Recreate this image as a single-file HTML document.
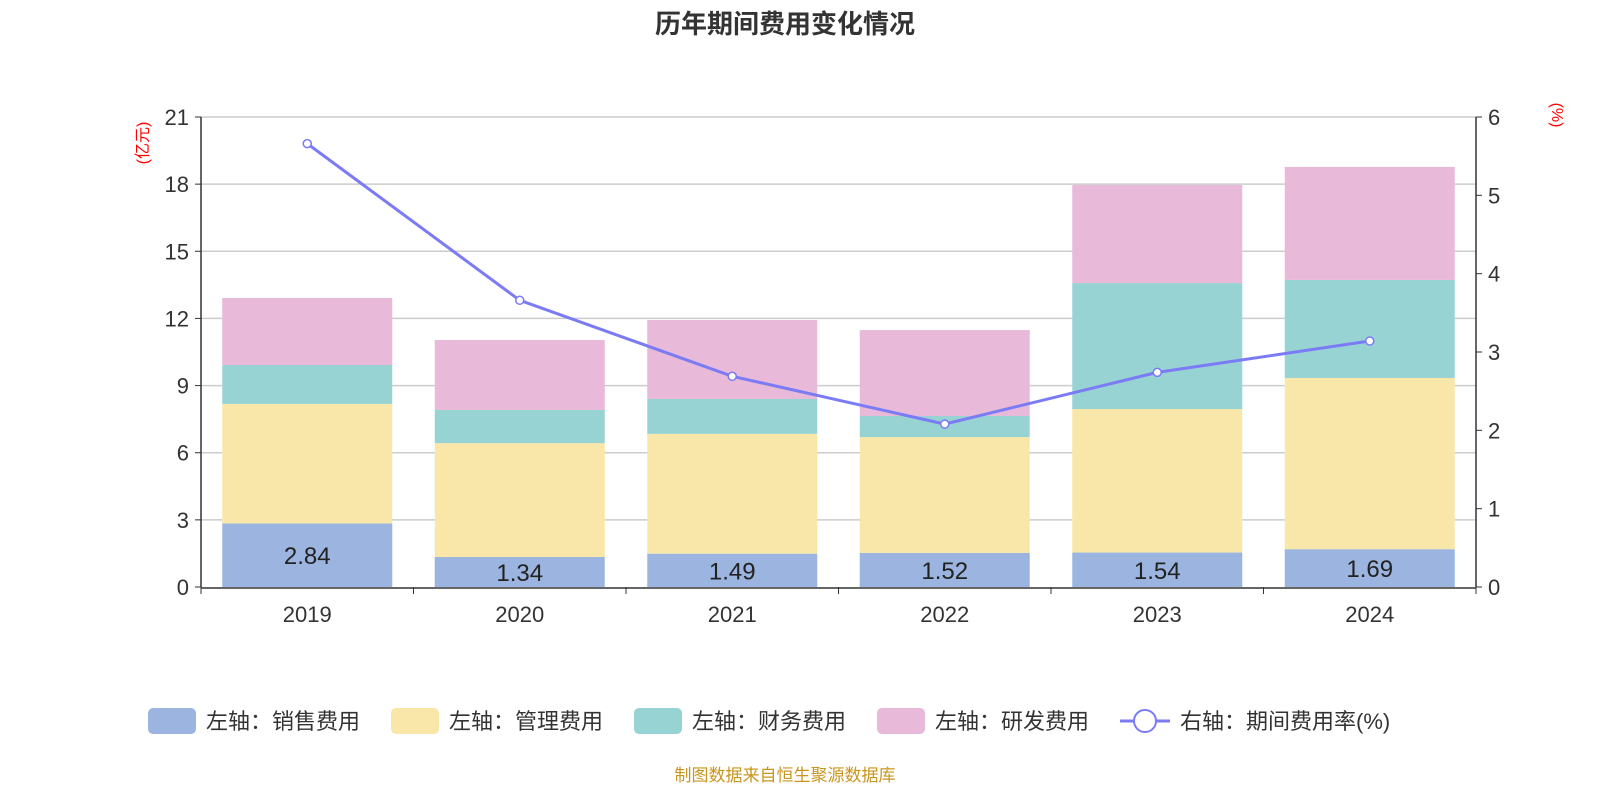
<!DOCTYPE html>
<html><head><meta charset="utf-8">
<style>
body{margin:0;background:#fff;width:1600px;height:800px;overflow:hidden;font-family:"Liberation Sans","Noto Sans CJK SC",sans-serif;}
</style></head>
<body>
<svg id="chart" width="1600" height="800" xmlns="http://www.w3.org/2000/svg" font-family="Liberation Sans, Noto Sans CJK SC, sans-serif">
<text x="785" y="33" text-anchor="middle" font-size="26" font-weight="bold" fill="#333">历年期间费用变化情况</text>
<text transform="translate(148,143) rotate(-90)" text-anchor="middle" font-size="16" fill="#f00">(亿元)</text>
<text transform="translate(1552,115) rotate(90)" text-anchor="middle" font-size="16" fill="#f00">(%)</text>
<g id="grid"></g><g id="bars"></g><g id="line"></g><g id="axes"></g>
<g font-size="22" fill="#333">
<rect x="148" y="708" width="48" height="26" rx="5" fill="#9bb5e0"/><text x="206" y="729">左轴：销售费用</text>
<rect x="391" y="708" width="48" height="26" rx="5" fill="#f8e7a8"/><text x="449" y="729">左轴：管理费用</text>
<rect x="634" y="708" width="48" height="26" rx="5" fill="#98d3d4"/><text x="692" y="729">左轴：财务费用</text>
<rect x="877" y="708" width="48" height="26" rx="5" fill="#e8b9d8"/><text x="935" y="729">左轴：研发费用</text>
<g><line x1="1120" y1="721" x2="1170" y2="721" stroke="#7b7bf5" stroke-width="3"/><circle cx="1145" cy="721" r="11" fill="#fff" stroke="#7b7bf5" stroke-width="2"/></g><text x="1180" y="729">右轴：期间费用率(%)</text>
</g>
<text x="785" y="781" text-anchor="middle" font-size="17" fill="#c8961e">制图数据来自恒生聚源数据库</text>
</svg>
<script>
const categories=["2019","2020","2021","2022","2023","2024"];
const sales=[2.84,1.34,1.49,1.52,1.54,1.69];
const mgmt=[5.34,5.09,5.35,5.18,6.41,7.65];
const fin=[1.74,1.48,1.56,0.94,5.63,4.38];
const rd=[2.99,3.13,3.53,3.84,4.38,5.05];
const rate=[5.66,3.66,2.69,2.08,2.74,3.14];
const leftTicks=[0,3,6,9,12,15,18,21];
const rightTicks=[0,1,2,3,4,5,6];
const NS="http://www.w3.org/2000/svg";
const X0=201,X1=1476,Y0=587,Y1=117;
const yL=v=>Y0-(Y0-Y1)*v/21, yR=v=>Y0-(Y0-Y1)*v/6;
const bw=(X1-X0)/categories.length, xc=i=>X0+bw*(i+0.5);
function mk(t,a,p){const e=document.createElementNS(NS,t);for(const k in a)e.setAttribute(k,a[k]);p.appendChild(e);return e;}
const grid=document.getElementById('grid'),bars=document.getElementById('bars'),line=document.getElementById('line'),axes=document.getElementById('axes');
leftTicks.forEach(v=>{
 if(v>0){const g=mk('line',{x1:X0,x2:X1,y1:yL(v),y2:yL(v),stroke:'#ccc','stroke-width':1.5},grid);
 
 }
 const t=mk('text',{x:X0-12,y:yL(v)+8,'text-anchor':'end','font-size':22,fill:'#333'},axes);t.textContent=v;
 
 
 mk('line',{x1:X0-6,x2:X0,y1:yL(v),y2:yL(v),stroke:'#333'},axes);
});
rightTicks.forEach(v=>{
 const t=mk('text',{x:X1+12,y:yR(v)+8,'font-size':22,fill:'#333'},axes);t.textContent=v;
 
 
 mk('line',{x1:X1,x2:X1+6,y1:yR(v),y2:yR(v),stroke:'#333'},axes);
});
mk('line',{x1:X0,x2:X0,y1:Y1,y2:Y0,stroke:'#333','stroke-width':1.5},axes);
mk('line',{x1:X1,x2:X1,y1:Y1,y2:Y0,stroke:'#333','stroke-width':1.5},axes);
mk('line',{x1:X0,x2:X1,y1:Y0+1,y2:Y0+1,stroke:'#333','stroke-width':1.5},axes);
for(let i=0;i<=categories.length;i++)mk('line',{x1:X0+bw*i,x2:X0+bw*i,y1:Y0,y2:Y0+7,stroke:'#333'},axes);
const series=[[sales,'#9bb5e0','sales'],[mgmt,'#f8e7a8','mgmt'],[fin,'#98d3d4','fin'],[rd,'#e8b9d8','rd']];
categories.forEach((c,i)=>{
 const t=mk('text',{x:xc(i),y:Y0+35,'text-anchor':'middle','font-size':22,fill:'#333'},axes);t.textContent=c;
 
 
 let base=0;
 series.forEach(([arr,col,nm])=>{
  const r=mk('rect',{x:xc(i)-85,width:170,y:yL(base+arr[i]),height:yL(base)-yL(base+arr[i]),fill:col},bars);
  
  
  base+=arr[i];
 });
 const l=mk('text',{x:xc(i),y:(yL(0)+yL(sales[i]))/2+9,'text-anchor':'middle','font-size':24,fill:'#222'},bars);l.textContent=sales[i].toFixed(2);
 
 
});
const pl=mk('polyline',{points:rate.map((v,i)=>xc(i)+','+yR(v)).join(' '),fill:'none',stroke:'#7b7bf5','stroke-width':3},line);


rate.forEach((v,i)=>{const p=mk('circle',{cx:xc(i),cy:yR(v),r:4,fill:'#fff',stroke:'#7b7bf5','stroke-width':1.5},line);
 
 });
</script>
</body></html>
